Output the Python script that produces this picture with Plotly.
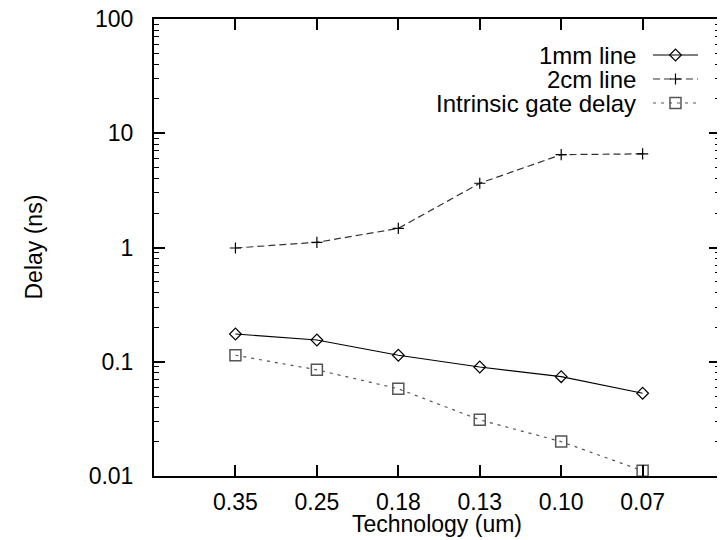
import plotly.graph_objects as go

# technology nodes (x axis categories, left to right)
technology = ["0.35", "0.25", "0.18", "0.13", "0.10", "0.07"]

# delay values in ns
delay_1mm = [0.175, 0.155, 0.114, 0.090, 0.074, 0.053]
delay_2cm = [0.99, 1.11, 1.47, 3.65, 6.5, 6.6]
delay_gate = [0.114, 0.085, 0.058, 0.031, 0.020, 0.0111]

y_tickvals = [0.01, 0.1, 1, 10, 100]
y_ticktext = ["0.01", "0.1", "1", "10", "100"]

series_names = ["1mm line", "2cm line", "Intrinsic gate delay"]

font_family = "Liberation Sans, Arial, Helvetica, sans-serif"

# style per series
styles = [
    dict(line=dict(color="black", width=1.2, dash="solid"),
         marker=dict(symbol="diamond-open", size=9, color="black",
                     line=dict(color="black", width=1.2))),
    dict(line=dict(color="#333333", width=1.2, dash="7px,4px"),
         marker=dict(symbol="cross-thin", size=8, color="black",
                     line=dict(color="black", width=1.2))),
    dict(line=dict(color="#555555", width=1.2, dash="3px,5px"),
         marker=dict(symbol="square-open", size=11, color="#555555",
                     line=dict(color="#555555", width=1.5))),
]

# the page body has an 8px default margin, so the figure is drawn
# 8px in from the top left corner of the window
body_margin = 8
fig_w, fig_h = 725 - body_margin, 540 - body_margin

# plot area in figure pixels
plot_left, plot_right = 154 - body_margin, 720 - body_margin
plot_top, plot_bottom = 19 - body_margin, 476 - body_margin
plot_w = plot_right - plot_left
plot_h = plot_bottom - plot_top

fig = go.Figure()

for name, values, style in zip(series_names, [delay_1mm, delay_2cm, delay_gate], styles):
    fig.add_trace(go.Scatter(
        x=technology,
        y=values,
        name=name,
        mode="lines+markers",
        line=style["line"],
        marker=style["marker"],
        cliponaxis=False,
        showlegend=False))

# gnuplot style key: text on the left, sample on the right
# drawn on a hidden overlay axis measured in figure pixels
key_rows = [55 - body_margin, 79 - body_margin, 103 - body_margin]
key_text_right = 637 - body_margin
key_line = [653 - body_margin, 698 - body_margin]

for row, name, style in zip(key_rows, series_names, styles):
    fig.add_trace(go.Scatter(
        x=key_line, y=[row, row],
        mode="lines", line=style["line"],
        xaxis="x2", yaxis="y2", showlegend=False, hoverinfo="skip"))
    fig.add_trace(go.Scatter(
        x=[sum(key_line) / 2], y=[row],
        mode="markers", marker=style["marker"],
        xaxis="x2", yaxis="y2", showlegend=False, hoverinfo="skip"))
    fig.add_annotation(
        x=key_text_right, y=row, xref="x2", yref="y2",
        text=name, showarrow=False, xanchor="right", yanchor="middle",
        borderpad=0,
        font=dict(size=24, color="black", family=font_family))

# minor ticks of the log axis (2..9 in each decade)
minor_vals = []
for decade in [0.01, 0.1, 1, 10]:
    for k in range(2, 10):
        minor_vals.append(decade * k)

fig.update_layout(
    width=fig_w, height=fig_h,
    margin=dict(l=plot_left, r=fig_w - plot_right, t=plot_top, b=fig_h - plot_bottom),
    paper_bgcolor="white",
    plot_bgcolor="white",
    font=dict(family=font_family, size=23, color="black"),
    xaxis=dict(
        type="category",
        range=[-1.0, 5.95],
        automargin=False,
        showgrid=False, zeroline=False,
        showline=True, linecolor="black", linewidth=2,
        mirror="ticks",
        ticks="inside", ticklen=11, tickwidth=1.5, tickcolor="black",
        ticklabelstandoff=4,
        ticklabeloverflow="allow",
        tickfont=dict(size=23),
    ),
    yaxis=dict(
        type="log",
        range=[-2, 2],
        automargin=False,
        tickvals=y_tickvals,
        ticktext=y_ticktext,
        showgrid=False, zeroline=False,
        showline=True, linecolor="black", linewidth=2,
        mirror="ticks",
        ticks="inside", ticklen=11, tickwidth=1.5, tickcolor="black",
        ticklabelstandoff=14,
        ticklabeloverflow="allow",
        tickfont=dict(size=23),
        minor=dict(ticks="inside", ticklen=5, tickwidth=1.2, tickcolor="black",
                   tickvals=minor_vals, showgrid=False),
    ),
    xaxis2=dict(overlaying="x", range=[plot_left, plot_right], visible=False,
                fixedrange=True),
    yaxis2=dict(overlaying="y", range=[plot_bottom, plot_top], visible=False,
                fixedrange=True),
)

# axis titles placed like gnuplot
fig.add_annotation(
    x=(33 - body_margin - plot_left) / plot_w, y=0.5,
    xref="paper", yref="paper",
    text="Delay (ns)", textangle=-90, showarrow=False,
    xanchor="center", yanchor="middle",
    font=dict(size=23, color="black", family=font_family))
fig.add_annotation(
    x=0.5, y=(plot_bottom - (524 - body_margin)) / plot_h,
    xref="paper", yref="paper",
    text="Technology (um)", showarrow=False,
    xanchor="center", yanchor="middle",
    font=dict(size=23, color="black", family=font_family))

fig.write_html("out.html")
